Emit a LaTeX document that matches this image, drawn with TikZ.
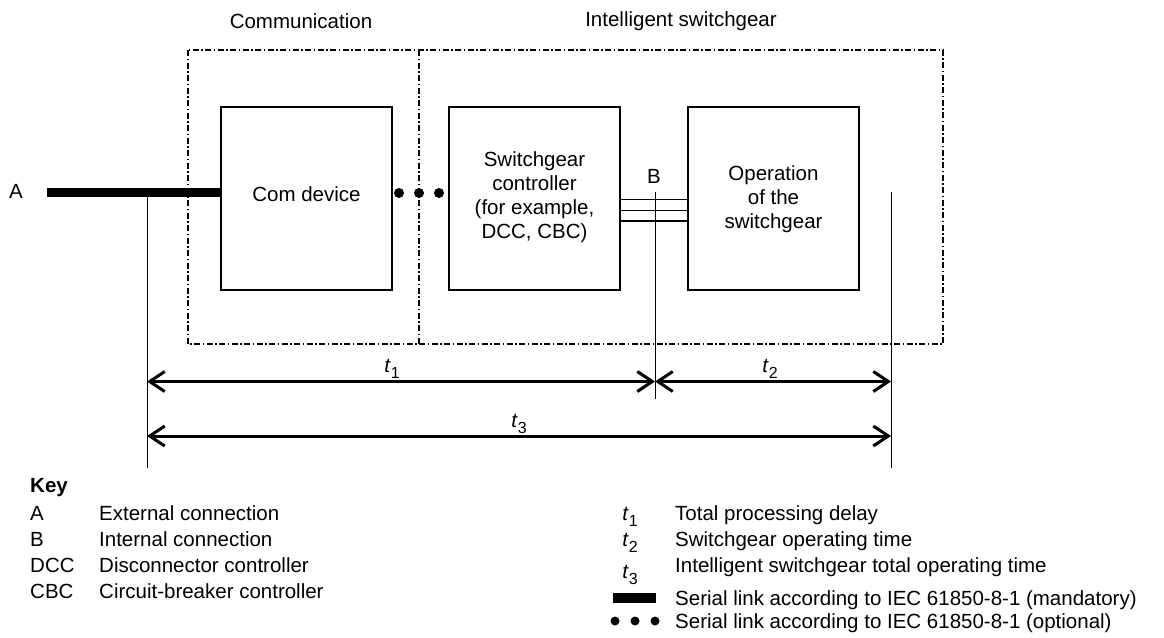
\documentclass[tikz,border=0pt]{standalone}
\usepackage{fontspec}
\setmainfont{Liberation Sans}
\usetikzlibrary{arrows.meta}
\newcommand\tvar[1]{\textit{t}\raisebox{-0.3em}{\fontsize{16}{16}\selectfont #1}}
\begin{document}
\begin{tikzpicture}[x=1pt,y=-1pt,
  every node/.style={font=\fontsize{20.5}{24}\selectfont, inner sep=0pt},
  blk/.style={draw, line width=1.3pt, minimum width=171pt, minimum height=183pt},
  region/.style={draw, line width=1.8pt, dash pattern=on 6pt off 2.5pt on 1.5pt off 2.5pt},
  dim/.style={line width=3pt, {Straight Barb[length=15pt,width=20pt]}-{Straight Barb[length=15pt,width=20pt]}},
  ref/.style={line width=1pt},
  dotn/.style={circle, fill, minimum size=10pt},
  keydot/.style={circle, fill, minimum size=9pt},
  link/.style={line width=9pt},
  bus/.style={line width=1.6pt},
  kl/.style={anchor=base west},
]
\useasboundingbox (0,0) rectangle (1164,637);

% dash-dot regions
\coordinate (r1) at (188,50);
\coordinate (r2) at (943,344);
\draw[region] (r1) rectangle (r2);
\coordinate (dv1) at (419,50);
\coordinate (dv2) at (419,344);
\draw[region] (dv1) -- (dv2);

\node (comm) at (301,21) {Communication};
\node (isw) at (681,21) {Intelligent switchgear};

% blocks
\node[blk] (com) at (306.5,198.5) {};
\node (comt) at (306.5,194) {Com device};
\node[blk] (ctrl) at (534.5,198.5) {};
\node[align=center] (ctrlt) at (534.5,197) {Switchgear\\controller\\(for example,\\DCC, CBC)};
\node[blk] (op) at (773.5,198.5) {};
\node[align=center] (opt) at (773.5,199) {Operation\\of the\\switchgear};

% external connection A
\node (A) at (16,191) {A};
\coordinate (Aend) at (47,192);
\draw[link] (Aend) -- (Aend -| com.west);

% optional serial link dots
\node[dotn] (d1) at (399,193) {};
\node[dotn] (d2) at (419,193) {};
\node[dotn] (d3) at (439,193) {};

% internal connection B
\coordinate (y1) at (0,199.5);
\coordinate (y2) at (0,210.5);
\coordinate (y3) at (0,221);
\draw[bus] (ctrl.east |- y1) -- (op.west |- y1);
\draw[bus] (ctrl.east |- y2) -- (op.west |- y2);
\draw[bus] (ctrl.east |- y3) -- (op.west |- y3);
\node (B) at (654,176) {B};
\coordinate (Btop) at (655,192);
\coordinate (Bbot) at (655,399);
\draw[ref] (Btop) -- (Bbot);

% reference lines
\coordinate (L1) at (147,197);
\coordinate (L2) at (147,468);
\draw[ref] (L1) -- (L2);
\coordinate (R1) at (891,192);
\coordinate (R2) at (891,468);
\draw[ref] (R1) -- (R2);

% time arrows
\coordinate (t1a) at (147,381.5);
\coordinate (t1b) at (655,381.5);
\coordinate (t2b) at (891,381.5);
\coordinate (t3a) at (147,436);
\coordinate (t3b) at (891,436);
\draw[dim] (t1a) -- (t1b);
\draw[dim] (t1b) -- (t2b);
\draw[dim] (t3a) -- (t3b);
\node (t1l) at (392,369) {\tvar{1}};
\node (t2l) at (770,369) {\tvar{2}};
\node (t3l) at (519,424) {\tvar{3}};

% key
\node[kl] (key) at (30,492) {\textbf{Key}};
\node[kl] (kA) at (30,520) {A};
\node[kl] (kAd) at (99,520) {External connection};
\node[kl] (kB) at (30,546) {B};
\node[kl] (kBd) at (99,546) {Internal connection};
\node[kl] (kD) at (30,572) {DCC};
\node[kl] (kDd) at (99,572) {Disconnector controller};
\node[kl] (kC) at (30,598) {CBC};
\node[kl] (kCd) at (99,598) {Circuit-breaker controller};

\node[anchor=base] (k1) at (630,520) {\tvar{1}};
\node[kl] (k1d) at (675,520) {Total processing delay};
\node[anchor=base] (k2) at (630,546) {\tvar{2}};
\node[kl] (k2d) at (675,546) {Switchgear operating time};
\node[anchor=base] (k3) at (630,578) {\tvar{3}};
\node[kl] (k3d) at (675,572) {Intelligent switchgear total operating time};
\node[fill, minimum width=43pt, minimum height=10pt] (kmand) at (634.5,598) {};
\node[kl] (kmandd) at (675,605) {Serial link according to IEC 61850-8-1 (mandatory)};
\node[keydot] (kd1) at (615,621) {};
\node[keydot] (kd2) at (635,621) {};
\node[keydot] (kd3) at (655,621) {};
\node[kl] (koptd) at (675,628) {Serial link according to IEC 61850-8-1 (optional)};
\end{tikzpicture}
\end{document}
